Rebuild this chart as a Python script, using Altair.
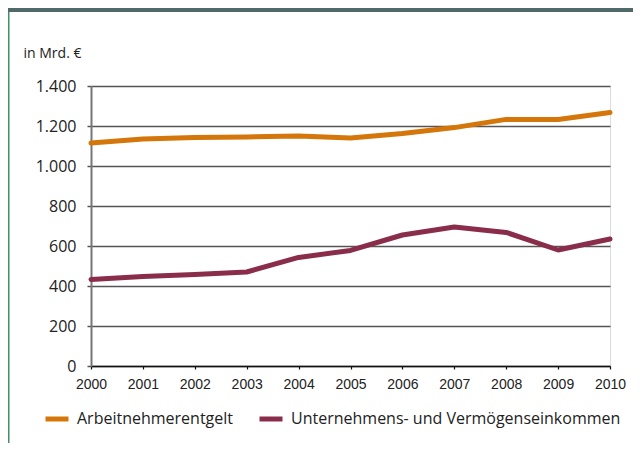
import altair as alt
import pandas as pd

years = list(range(2000, 2011))
arbeitnehmer = [1115, 1135, 1142, 1145, 1150, 1140, 1163, 1192, 1233, 1233, 1267]
unternehmen = [433, 448, 458, 470, 543, 578, 655, 695, 668, 580, 635]
series = ["Arbeitnehmerentgelt", "Unternehmens- und Vermögenseinkommen"]
colors = ["#d4760a", "#8a2d4a"]
y_ticks = [0, 200, 400, 600, 800, 1000, 1200, 1400]

rows = []
for y, a, u in zip(years, arbeitnehmer, unternehmen):
    rows.append({"Jahr": y, "Wert": a, "Reihe": series[0]})
    rows.append({"Jahr": y, "Wert": u, "Reihe": series[1]})
df = pd.DataFrame(rows)

W, H = 519, 280
PL, PT, PR, PB = 83, 78, 23, 77

lines = alt.Chart(df).mark_line(strokeWidth=5, strokeCap="round", strokeJoin="round").encode(
    x=alt.X("Jahr:Q",
            scale=alt.Scale(domain=[2000, 2010], nice=False, zero=False),
            axis=alt.Axis(values=years, format="d", title=None, grid=False,
                          labelOverlap=False, labelFlush=False,
                          domainColor="#111", domainWidth=1.5,
                          tickColor="#111", tickSize=3, tickWidth=1.2,
                          labelFont="Liberation Sans", labelFontWeight="normal",
                          labelFontSize=14, labelColor="#222", labelPadding=8)),
    y=alt.Y("Wert:Q",
            scale=alt.Scale(domain=[0, 1400], nice=False),
            axis=alt.Axis(values=y_ticks,
                          labelExpr="replace(format(datum.value, ',d'), ',', '.')",
                          title="in Mrd. €", titleAngle=0, titleAlign="left",
                          titleBaseline="alphabetic", titleX=-68, titleY=-29,
                          titleFont="Open Sans", titleFontSize=14, titleFontWeight="normal",
                          titleColor="#222",
                          grid=True, gridColor="#555", gridWidth=1.5,
                          domainColor="#777", domainWidth=2,
                          tickColor="#555", tickSize=4, tickWidth=1.5,
                          labelFont="Open Sans", labelFontSize=16, labelColor="#222",
                          labelPadding=11)),
    color=alt.Color("Reihe:N",
                    scale=alt.Scale(domain=series, range=colors),
                    legend=alt.Legend(title=None, orient="none", direction="horizontal",
                                      legendX=-48, legendY=319,
                                      symbolType="stroke", symbolSize=529,
                                      symbolStrokeWidth=5,
                                      labelFont="Open Sans", labelFontSize=16,
                                      labelColor="#222", labelOffset=6,
                                      columnPadding=15, labelLimit=500, padding=0)),
)

deco = pd.DataFrame({"k": [0]})
header = alt.Chart(deco).mark_rect(color="#4f6a68").encode(
    x=alt.value(-PL), x2=alt.value(W + PR), y=alt.value(-PT), y2=alt.value(-PT + 4))
leftline = alt.Chart(deco).mark_rule(color="#3c9466", strokeWidth=1.5).encode(
    x=alt.value(-PL + 0.75), y=alt.value(-PT + 4), y2=alt.value(H + PB))

chart = alt.layer(header, leftline, lines).properties(
    width=W, height=H,
    autosize=alt.AutoSizeParams(type="none"),
    padding={"left": PL, "top": PT, "right": PR, "bottom": PB},
).configure_view(stroke=None, clip=False).configure(background="white")

chart.save("out.html", embed_options={"renderer": "svg", "actions": False})
